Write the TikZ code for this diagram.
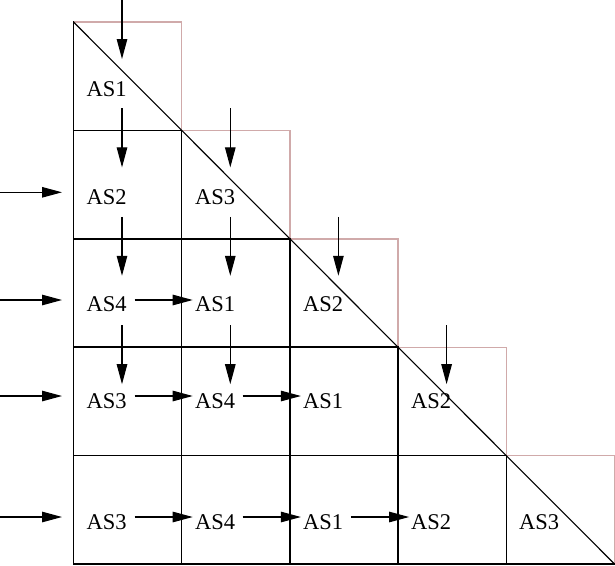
\documentclass[tikz,border=0pt]{standalone}
\usepackage{fontspec}
\setmainfont{Liberation Serif}
\usetikzlibrary{arrows.meta}
\definecolor{pinkline}{RGB}{208,170,170}
\begin{document}
\begin{tikzpicture}[x=1pt,y=-1pt,
  gridline/.style={line width=1.5pt, line cap=rect},
  stair/.style={draw=pinkline, line width=1.4pt},
  flow/.style={line width=1.1pt, -{Triangle[length=20pt,width=10.5pt]}},
  lab/.style={font=\fontsize{22.5}{25}\selectfont, inner sep=0pt, anchor=base west}]
\useasboundingbox (0,0) rectangle (615,565);
% grid corners
\coordinate (g00) at (73.5,22);
\coordinate (g10) at (181.7,22);  \coordinate (g11) at (181.7,130.4);
\coordinate (g21) at (289.9,130.4); \coordinate (g22) at (289.9,238.8);
\coordinate (g32) at (398.1,238.8); \coordinate (g33) at (398.1,347.2);
\coordinate (g43) at (506.3,347.2); \coordinate (g44) at (506.3,455.6);
\coordinate (g54) at (614.5,455.6); \coordinate (g55) at (614.5,564);
\coordinate (g01) at (73.5,130.4); \coordinate (g02) at (73.5,238.8);
\coordinate (g03) at (73.5,347.2); \coordinate (g04) at (73.5,455.6);
\coordinate (g05) at (73.5,564);
\coordinate (g15) at (181.7,564); \coordinate (g25) at (289.9,564);
\coordinate (g35) at (398.1,564); \coordinate (g45) at (506.3,564);
% pink staircase
\draw[stair] (g00) -- (g10) -- (g11) -- (g21) -- (g22) -- (g32) -- (g33) -- (g43) -- (g44) -- (g54) -- (g55);
% black grid
\draw[gridline] (g00) -- (g05) -- (g55);
\draw[gridline] (g11) -- (g15);
\draw[gridline] (g22) -- (g25);
\draw[gridline] (g33) -- (g35);
\draw[gridline] (g44) -- (g45);
\draw[gridline] (g01) -- (g11);
\draw[gridline] (g02) -- (g22);
\draw[gridline] (g03) -- (g33);
\draw[gridline] (g04) -- (g44);
\draw[line width=1.1pt] (g00) -- (g55);
% labels
\node[lab] (L00) at (86.5,96) {AS1};
\node[lab] (L10) at (86.5,204) {AS2};
\node[lab] (L11) at (195,204) {AS3};
\node[lab] (L20) at (86.5,311) {AS4};
\node[lab] (L21) at (195,311) {AS1};
\node[lab] (L22) at (303,311) {AS2};
\node[lab] (L30) at (86.5,408) {AS3};
\node[lab] (L31) at (195,408) {AS4};
\node[lab] (L32) at (303,408) {AS1};
\node[lab] (L33) at (411,408) {AS2};
\node[lab] (L40) at (86.5,529) {AS3};
\node[lab] (L41) at (195,529) {AS4};
\node[lab] (L42) at (303,529) {AS1};
\node[lab] (L43) at (411,529) {AS2};
\node[lab] (L44) at (519,529) {AS3};
% vertical arrow ends
\coordinate (v0s0) at (122,0);     \coordinate (v0e0) at (122,59);
\coordinate (v0s1) at (122,108.4); \coordinate (v0e1) at (122,167.4);
\coordinate (v0s2) at (122,216.8); \coordinate (v0e2) at (122,275.8);
\coordinate (v0s3) at (122,325.2); \coordinate (v0e3) at (122,384.2);
\coordinate (v1s1) at (230.3,108.4); \coordinate (v1e1) at (230.3,167.4);
\coordinate (v1s2) at (230.3,216.8); \coordinate (v1e2) at (230.3,275.8);
\coordinate (v1s3) at (230.3,325.2); \coordinate (v1e3) at (230.3,384.2);
\coordinate (v2s2) at (338.4,216.8); \coordinate (v2e2) at (338.4,275.8);
\coordinate (v3s3) at (446.6,325.2); \coordinate (v3e3) at (446.6,384.2);
\foreach \s/\e in {v0s0/v0e0,v0s1/v0e1,v0s2/v0e2,v0s3/v0e3,v1s1/v1e1,v1s2/v1e2,v1s3/v1e3,v2s2/v2e2,v3s3/v3e3}
  \draw[flow] (\s) -- (\e);
% horizontal arrow ends
\coordinate (h1s) at (0,192.3); \coordinate (h1e) at (62,192.3);
\coordinate (h2s) at (0,300);   \coordinate (h2e) at (62,300);
\coordinate (h3s) at (0,396);   \coordinate (h3e) at (62,396);
\coordinate (h4s) at (0,517);   \coordinate (h4e) at (62,517);
\coordinate (a20) at (134.5,300); \coordinate (b21) at (192.7,300);
\coordinate (a30) at (134.5,396); \coordinate (b31) at (192.7,396);
\coordinate (a31) at (242.7,396); \coordinate (b32) at (300.9,396);
\coordinate (a40) at (134.5,517); \coordinate (b41) at (192.7,517);
\coordinate (a41) at (242.7,517); \coordinate (b42) at (300.9,517);
\coordinate (a42) at (350.9,517); \coordinate (b43) at (409.1,517);
\foreach \s/\e in {h1s/h1e,h2s/h2e,h3s/h3e,h4s/h4e,a20/b21,a30/b31,a31/b32,a40/b41,a41/b42,a42/b43}
  \draw[flow] (\s) -- (\e);
\end{tikzpicture}
\end{document}
